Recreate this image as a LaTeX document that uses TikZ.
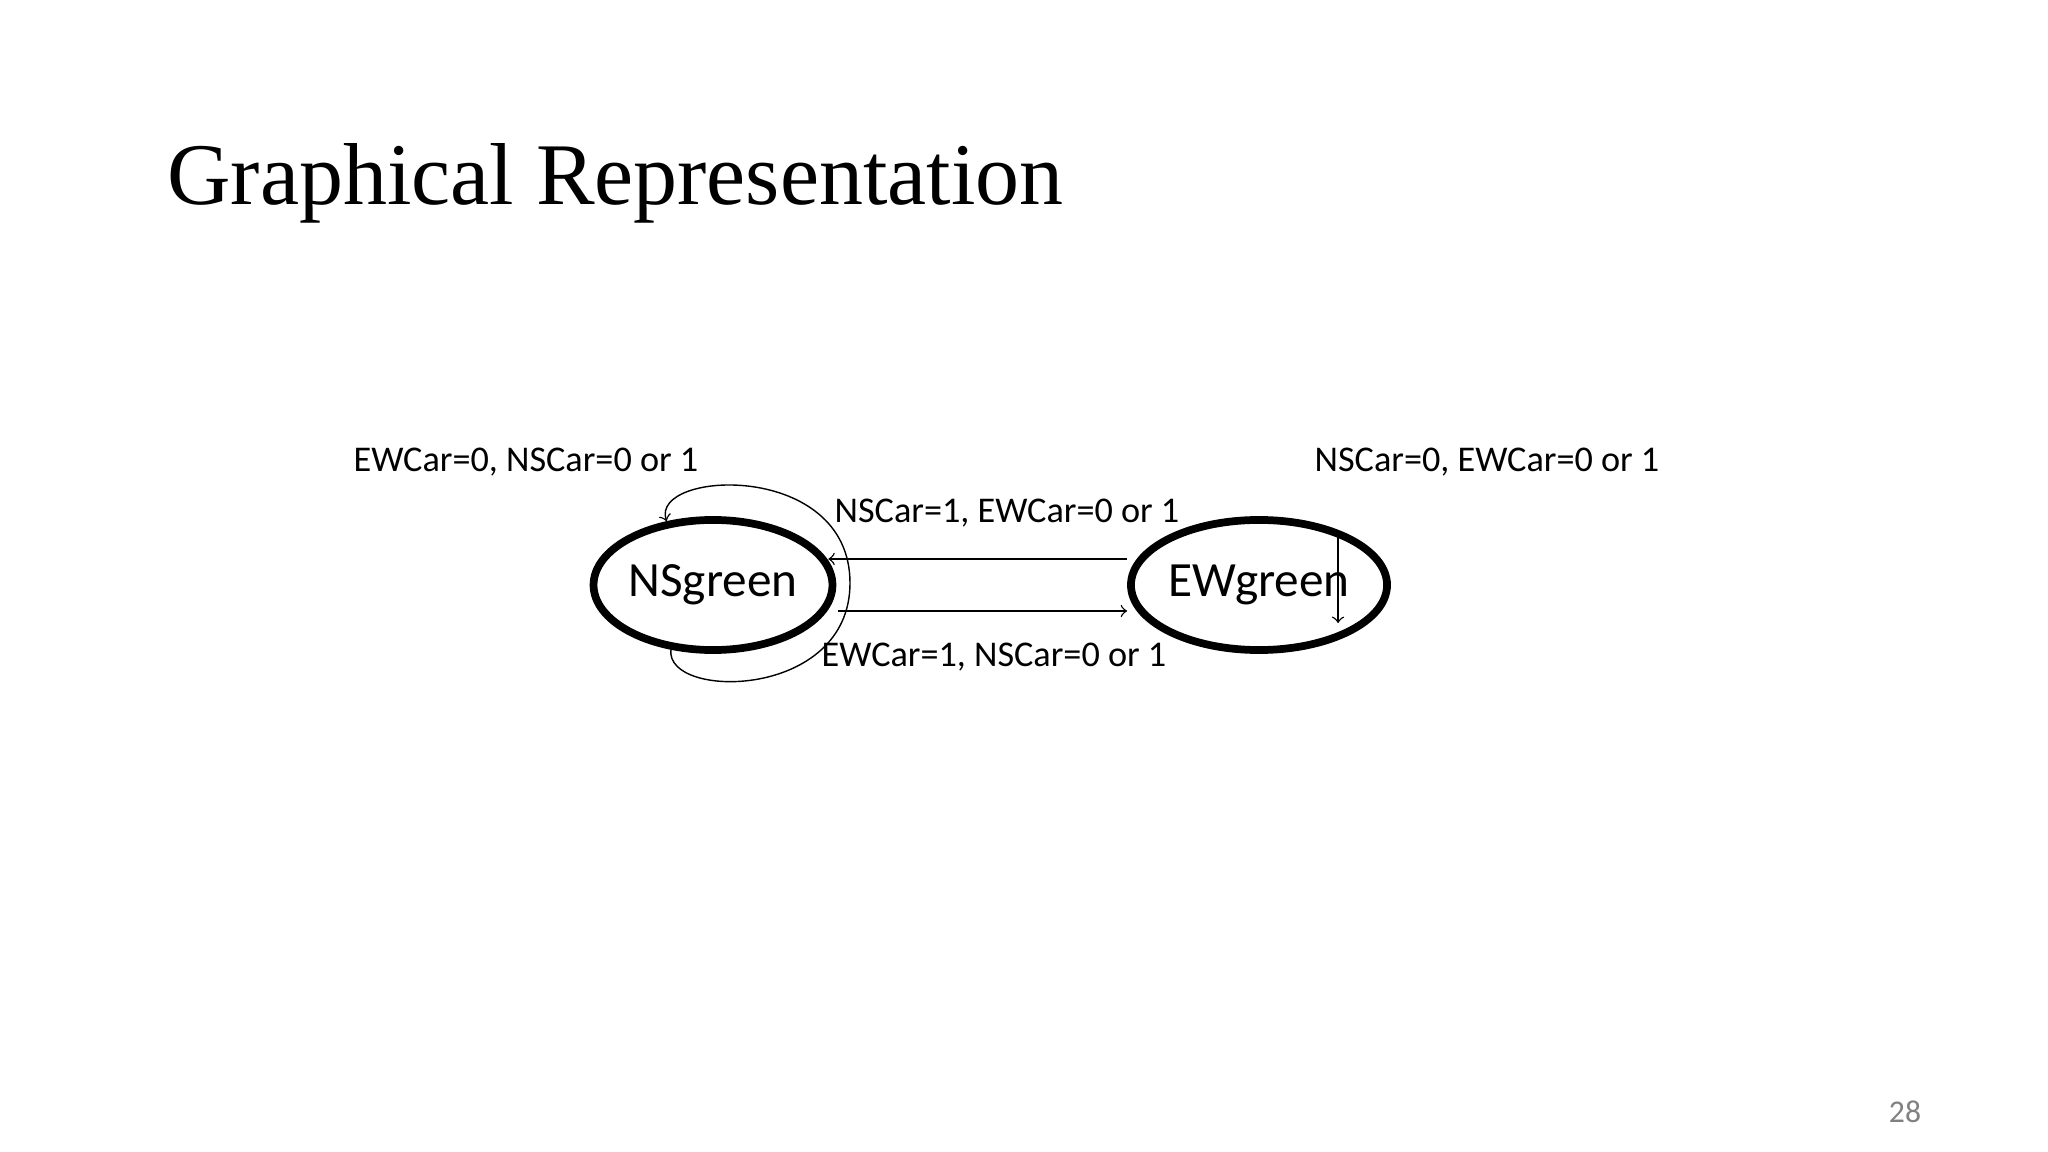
\documentclass[tikz,border=0pt]{standalone}
\usepackage{fontspec}
\setmainfont{Carlito}
\newfontfamily\titlefont{Liberation Serif}
\usetikzlibrary{shapes.geometric,arrows}

\begin{document}
\begin{tikzpicture}[%
    x=0.01cm, y=-0.01cm,        % Pixel-like units, top-down
    >=to,                       % Thin open arrows
    ]
% -------------------------------------------------
% Styles
\tikzset{
  state/.style={draw, ellipse, line width=2.2pt, minimum width=2.06cm,
    minimum height=1.30cm, inner sep=0pt, font=\fontsize{14}{16}\selectfont},
  cond/.style={font=\fontsize{10.3}{12}\selectfont},
  norm/.style={->, draw, thin},
}
\useasboundingbox (0,0) rectangle (2048,1152);
% -------------------------------------------------
% Title and page number
\node [anchor=base west, font=\titlefont\fontsize{25}{30}\selectfont]
  (title) at (155,205) {Graphical Representation};
\node [text=gray, font=\fontsize{9}{11}\selectfont] (page) at (1905,1112) {28};

% States
\node [state] (ns) at (713,585) {NSgreen};
\node [state] (ew) at (1259,585) {EWgreen};

% Transition labels
\node [cond] (l1) at (526,462) {EWCar=0, NSCar=0 or 1};
\node [cond] (l2) at (1487,462) {NSCar=0, EWCar=0 or 1};
\node [cond] (l3) at (1007,513) {NSCar=1, EWCar=0 or 1};
\node [cond] (l4) at (994,657) {EWCar=1, NSCar=0 or 1};

% Transitions
\draw [norm] ([yshift=0.26cm]ew.west) -- ([xshift=-0.08cm,yshift=0.26cm]ns.east);
\draw [norm] ([xshift=0.02cm,yshift=-0.26cm]ns.east) -- ([yshift=-0.26cm]ew.west);
\draw [norm] (ns.237) .. controls (665,700) and (850,700) .. (850,583)
  .. controls (850,460) and (650,470) .. (ns.126);
\coordinate (ewtop) at ([xshift=0.79cm,yshift=0.52cm]ew.center);
\coordinate (ewbot) at ([xshift=0.79cm,yshift=-0.38cm]ew.center);
\draw [norm] (ewtop) -- (ewbot);
% -------------------------------------------------
\end{tikzpicture}
\end{document}
